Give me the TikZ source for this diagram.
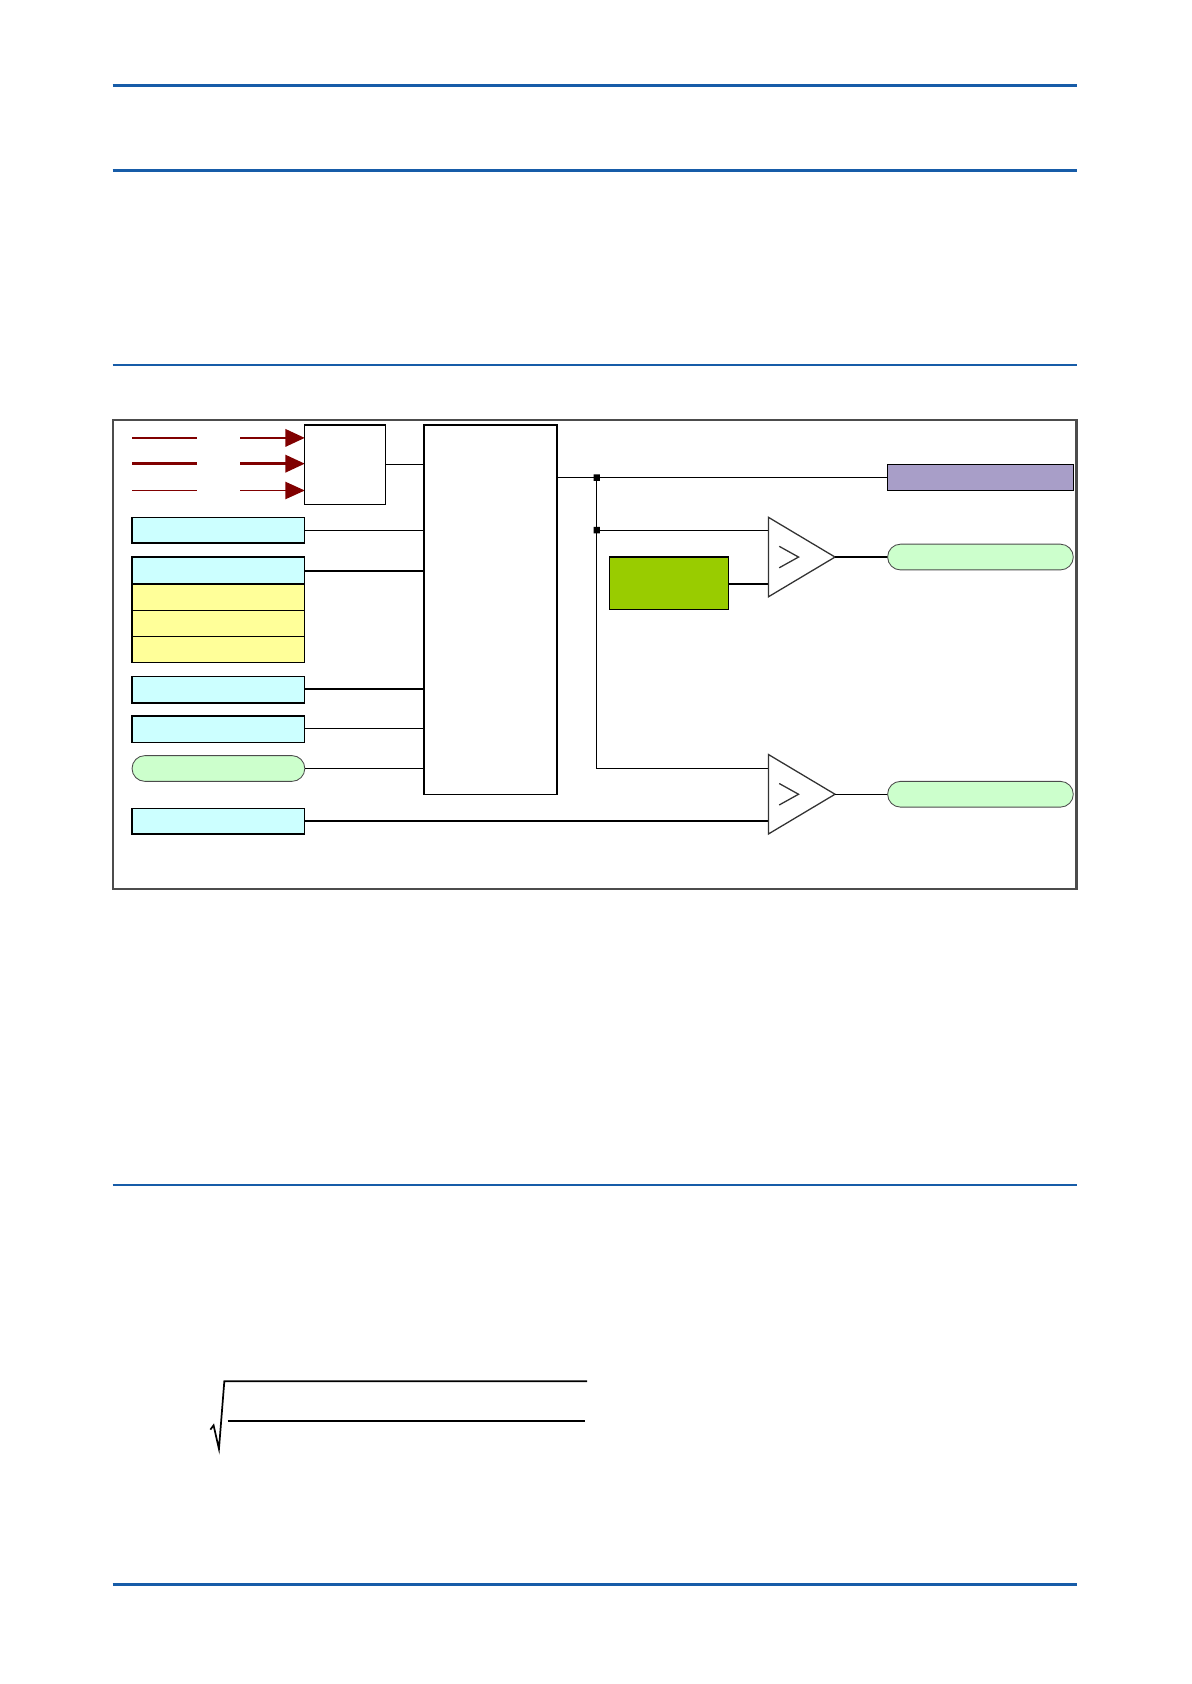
\documentclass[tikz,border=0pt]{standalone}
\usetikzlibrary{arrows.meta}
\definecolor{rulebl}{RGB}{23,92,168}
\definecolor{sigred}{RGB}{128,0,0}
\definecolor{cyanbox}{RGB}{204,255,255}
\definecolor{yelbox}{RGB}{255,255,153}
\definecolor{grnbox}{RGB}{204,255,204}
\definecolor{limebox}{RGB}{153,204,0}
\definecolor{purbox}{RGB}{168,158,200}
\begin{document}
\begin{tikzpicture}[x=0.5pt,y=0.5pt,yscale=-1,
  inbox/.style={draw,line width=0.6pt},
  pill/.style={draw=black!70,fill=grnbox,rounded corners=6pt},
  wire/.style={line width=0.6pt},
  sig/.style={sigred,line width=1pt}]
\useasboundingbox (0,0) rectangle (1110,1569);
% page rules
\foreach \yy in {80,159,340,1104,1476}
  \draw [rulebl,line width=1.3pt] (105,\yy) -- (1003,\yy);
% frame
\draw [black!70,line width=1pt] (105,391) rectangle (1003,828);
% analogue inputs
\foreach \yy/\lw in {408/1.2pt,432/1.2pt,457/0.6pt}{
  \draw [sig,line width=\lw] (123,\yy) -- (184,\yy);
  \draw [sig,line width=\lw,-{Triangle[length=9pt,width=8pt]}] (224,\yy) -- (284,\yy);
}
\draw [inbox] (284,396) rectangle (359,470);
\draw [inbox] (395,396) rectangle (519,740);
\draw [wire] (359,433) -- (395,433);
% setting boxes
\draw [inbox,fill=cyanbox] (123,482) rectangle (284,506);
\draw [inbox,fill=cyanbox] (123,519) rectangle (284,544);
\draw [inbox,fill=yelbox] (123,544) rectangle (284,569);
\draw [inbox,fill=yelbox] (123,569) rectangle (284,593);
\draw [inbox,fill=yelbox] (123,593) rectangle (284,617);
\draw [inbox,fill=cyanbox] (123,630) rectangle (284,655);
\draw [inbox,fill=cyanbox] (123,667) rectangle (284,692);
\draw [pill] (123,704) rectangle (284,728);
\draw [inbox,fill=cyanbox] (123,753) rectangle (284,777);
\foreach \yy in {494,532,642,679,716}
  \draw [wire] (284,\yy) -- (395,\yy);
\draw [wire] (284,765) -- (716,765);
% outputs
\draw [wire] (519,445) -- (827,445);
\draw [inbox,fill=purbox] (827,433) rectangle (1000,457);
\fill (553,442) rectangle (559,448) (553,491) rectangle (559,497);
\draw [wire] (556,445) -- (556,716) -- (716,716);
\draw [wire] (556,494) -- (716,494);
\draw [inbox,fill=limebox] (568,519) rectangle (679,568);
\draw [wire] (679,544) -- (716,544);
\foreach \yy in {519,740}{
  \draw [wire,black!80] (716,\yy-37) -- (778,\yy) -- (716,\yy+37) -- cycle;
  \draw [wire,black!80] (726,\yy-10) -- (744,\yy) -- (726,\yy+10);
  \draw [wire] (778,\yy) -- (827,\yy);
  \draw [pill] (827,\yy-12) rectangle (1000,\yy+12);
}
% formula
\draw [line width=0.8pt] (196,1332) -- (199,1328) -- (204,1350) -- (209,1287) -- (547,1287);
\draw [line width=0.7pt] (212,1324) -- (545,1324);
\end{tikzpicture}
\end{document}
